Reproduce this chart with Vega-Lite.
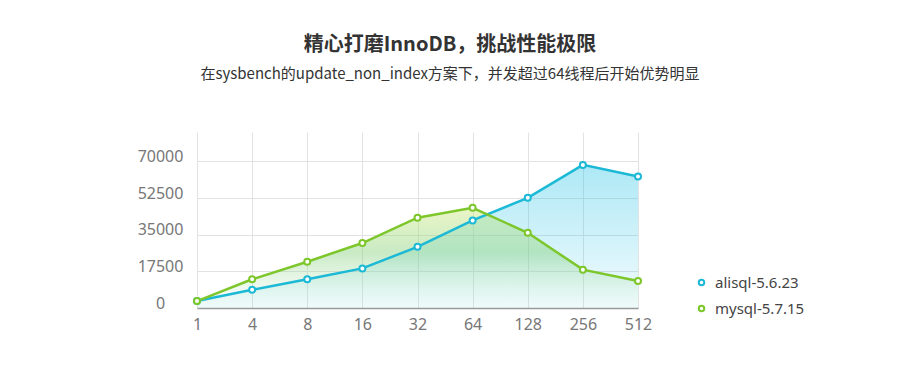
{
  "$schema": "https://vega.github.io/schema/vega-lite/v6.json",
  "width": 465,
  "height": 176,
  "autosize": {"type": "none"},
  "padding": {"left": 192, "top": 132, "right": 243, "bottom": 70},
  "background": "white",
  "view": {"stroke": null},
  "title": {
    "text": "精心打磨InnoDB，挑战性能极限",
    "subtitle": "在sysbench的update_non_index方案下，并发超过64线程后开始优势明显",
    "anchor": "middle",
    "dx": 25.5,
    "offset": 50,
    "font": "Noto Sans CJK SC",
    "fontSize": 20,
    "fontWeight": "bold",
    "color": "#333333",
    "subtitleFont": "Noto Sans CJK SC",
    "subtitleFontSize": 15,
    "subtitleColor": "#333333",
    "subtitlePadding": 12
  },
  "data": {
    "values": [
      {"threads": "1", "series": "alisql-5.6.23", "tps": 3300},
      {"threads": "4", "series": "alisql-5.6.23", "tps": 8700},
      {"threads": "8", "series": "alisql-5.6.23", "tps": 13700},
      {"threads": "16", "series": "alisql-5.6.23", "tps": 18900},
      {"threads": "32", "series": "alisql-5.6.23", "tps": 29200},
      {"threads": "64", "series": "alisql-5.6.23", "tps": 41800},
      {"threads": "128", "series": "alisql-5.6.23", "tps": 52600},
      {"threads": "256", "series": "alisql-5.6.23", "tps": 68300},
      {"threads": "512", "series": "alisql-5.6.23", "tps": 62800},
      {"threads": "1", "series": "mysql-5.7.15", "tps": 3300},
      {"threads": "4", "series": "mysql-5.7.15", "tps": 13700},
      {"threads": "8", "series": "mysql-5.7.15", "tps": 22100},
      {"threads": "16", "series": "mysql-5.7.15", "tps": 31000},
      {"threads": "32", "series": "mysql-5.7.15", "tps": 43100},
      {"threads": "64", "series": "mysql-5.7.15", "tps": 47800},
      {"threads": "128", "series": "mysql-5.7.15", "tps": 35900},
      {"threads": "256", "series": "mysql-5.7.15", "tps": 18300},
      {"threads": "512", "series": "mysql-5.7.15", "tps": 12900}
    ]
  },
  "encoding": {
    "x": {
      "field": "threads",
      "type": "ordinal",
      "sort": ["1", "4", "8", "16", "32", "64", "128", "256", "512"],
      "scale": {"type": "point", "padding": 0, "range": [5, 446]},
      "axis": {
        "title": null,
        "labelAngle": 0,
        "grid": true,
        "gridColor": "#e2e2e2",
        "ticks": false,
        "tickSize": 0,
        "domainColor": "#999999",
        "domainWidth": 1.5,
        "labelPadding": 8,
        "labelFontSize": 16,
        "labelColor": "#777777",
        "labelFont": "Noto Sans"
      }
    },
    "y": {
      "field": "tps",
      "type": "quantitative",
      "scale": {"domain": [0, 84000], "nice": false},
      "axis": {
        "title": null,
        "values": [0, 17500, 35000, 52500, 70000],
        "format": "d",
        "grid": true,
        "gridColor": "#e2e2e2",
        "domain": false,
        "ticks": false,
        "tickSize": 0,
        "labelAlign": "center",
        "labelPadding": 32,
        "labelOffset": -5,
        "labelFontSize": 16,
        "labelColor": "#777777",
        "labelFont": "Noto Sans"
      }
    }
  },
  "layer": [
    {
      "transform": [{"filter": "datum.series === 'alisql-5.6.23'"}],
      "mark": {
        "type": "area",
        "color": {
          "gradient": "linear", "x1": 0, "y1": 0, "x2": 0, "y2": 1,
          "stops": [
            {"offset": 0, "color": "rgba(40,195,230,0.38)"},
            {"offset": 1, "color": "rgba(40,195,230,0.06)"}
          ]
        }
      }
    },
    {
      "transform": [{"filter": "datum.series === 'mysql-5.7.15'"}],
      "mark": {
        "type": "area",
        "color": {
          "gradient": "linear", "x1": 0, "y1": 0, "x2": 0, "y2": 1,
          "stops": [
            {"offset": 0, "color": "rgba(205,232,120,0.42)"},
            {"offset": 0.45, "color": "rgba(125,205,115,0.42)"},
            {"offset": 1, "color": "rgba(210,238,210,0.08)"}
          ]
        }
      }
    },
    {
      "mark": {"type": "line", "strokeWidth": 2.5},
      "encoding": {
        "color": {
          "field": "series",
          "type": "nominal",
          "scale": {"domain": ["alisql-5.6.23", "mysql-5.7.15"], "range": ["#1cb9d6", "#7dc62b"]},
          "legend": {
            "title": null,
            "orient": "none",
            "legendX": 502,
            "legendY": 143,
            "padding": 0,
            "symbolType": "circle",
            "symbolFillColor": "white",
            "symbolStrokeWidth": 2,
            "symbolSize": 30,
            "labelFontSize": 15,
            "labelColor": "#444444",
            "labelFont": "Noto Sans",
            "labelOffset": 6,
            "rowPadding": 10
          }
        }
      }
    },
    {
      "mark": {"type": "point", "shape": "circle", "filled": false, "fill": "white", "size": 36, "strokeWidth": 2, "opacity": 1},
      "encoding": {
        "stroke": {"field": "series", "type": "nominal", "scale": {"domain": ["alisql-5.6.23", "mysql-5.7.15"], "range": ["#1cb9d6", "#7dc62b"]}, "legend": null}
      }
    }
  ]
}
